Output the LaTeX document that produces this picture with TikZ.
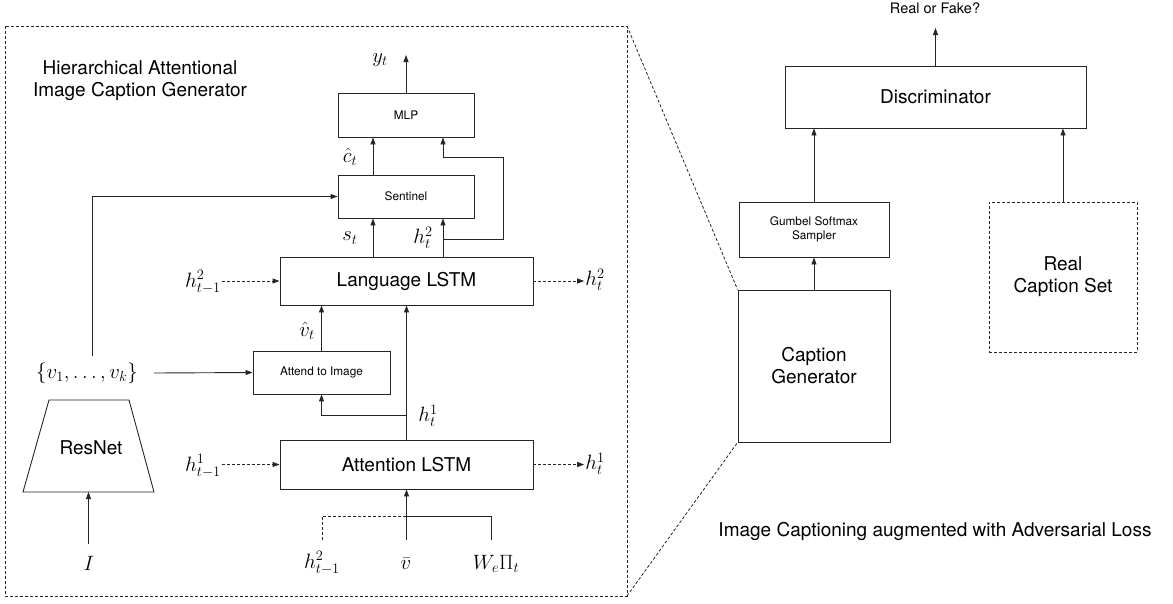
\documentclass[tikz,border=0pt]{standalone}
\usepackage[no-math]{fontspec}
\setmainfont{TeX Gyre Heros}
\usetikzlibrary{arrows.meta,calc}

\tikzset{
  box/.style={draw=black!85, line width=0.9pt, inner sep=0pt, align=center},
  bigtext/.style={font=\fontsize{19}{22}\selectfont},
  smalltext/.style={font=\fontsize{11.8}{14}\selectfont},
  mathlbl/.style={font=\fontsize{20}{24}\selectfont, inner sep=1pt},
  arr/.style={-{Triangle[length=7pt,width=5pt]}, line width=0.9pt, draw=black!85},
  darr/.style={arr, dash pattern=on 3pt off 2pt},
  wire/.style={line width=0.9pt, draw=black!85},
  frame/.style={line width=0.8pt, dash pattern=on 3pt off 2pt, draw=black!85},
}

\begin{document}
\begin{tikzpicture}[x=1pt,y=-1pt]
\useasboundingbox (0,0) rectangle (1173,603);

% ---------- generator detail frame ----------
\draw[frame] (5,26) rectangle (627,596);
\coordinate (zt) at (627,26);
\coordinate (zb) at (627,596);

\node[bigtext, align=center] (title) at (140,81) {Hierarchical Attentional\\Image Caption Generator};

% main blocks
\node[box, minimum width=136pt, minimum height=44pt, smalltext] (mlp) at (406,115) {MLP};
\node[box, minimum width=136pt, minimum height=43pt, smalltext] (sent) at (406,196.5) {Sentinel};
\node[box, minimum width=253pt, minimum height=48pt, bigtext] (lang) at (406.5,281) {Language LSTM};
\node[box, minimum width=137pt, minimum height=43pt, smalltext] (att) at (321.5,372.5) {Attend to Image};
\node[box, minimum width=253pt, minimum height=49pt, bigtext] (attn) at (406.5,464.5) {Attention LSTM};

% ResNet encoder
\draw[wire] (49,400) -- (129,400) -- (154,492) -- (23,492) -- cycle;
\node[bigtext] (resnet) at (91,448) {ResNet};
\coordinate (resbot) at (88.5,492);

% output of the MLP
\node[mathlbl] (yt) at (380,60) {$y_t$};
\coordinate (ytend) at (406,55);
\draw[arr] (mlp.north) -- (ytend);

% columns between Language LSTM, Sentinel and MLP
\coordinate (cA) at (373,0);
\coordinate (cB) at (443,0);
\coordinate (cR) at (503,0);
\draw[arr] (sent.north -| cA) -- (mlp.south -| cA);
\draw[arr] (lang.north -| cA) -- (sent.south -| cA);
\draw[arr] (lang.north -| cB) -- (sent.south -| cB);
\coordinate (hb) at (443,239);
\coordinate (ht) at (443,157);
\draw[arr] (hb) -- (hb -| cR) |- (ht) -- (mlp.south -| cB);

\node[mathlbl] (chat) at (350,157) {$\hat c_t$};
\node[mathlbl] (st) at (350,238) {$s_t$};
\node[mathlbl] (hts) at (423,238) {$h_t^2$};

% image features
\node[mathlbl] (vset) at (87,373) {$\{v_1,\ldots,v_k\}$};
\coordinate (vup) at (92,356);
\draw[arr] (vup) |- (sent.west);
\coordinate (vout) at (154,373);
\draw[arr] (vout) -- (att.west);

\draw[arr] (att.north) -- (att.north |- lang.south);
\node[mathlbl] (vhat) at (307,331) {$\hat v_t$};
\draw[arr] (attn.north) -- (lang.south);
\coordinate (jn) at (406.5,415);
\draw[arr] (jn) -| (att.south);
\node[mathlbl] (h1mid) at (428,416) {$h_t^1$};

% recurrent states
\node[mathlbl] (h2in) at (203,282) {$h_{t-1}^2$};
\draw[darr] (h2in.east |- lang.west) -- (lang.west);
\node[mathlbl] (h2out) at (595,280) {$h_t^2$};
\draw[darr] (lang.east) -- (lang.east -| h2out.west);
\node[mathlbl] (h1in) at (203,466) {$h_{t-1}^1$};
\draw[darr] (h1in.east |- attn.west) -- (attn.west);
\node[mathlbl] (h1out) at (595,464) {$h_t^1$};
\draw[darr] (attn.east) -- (attn.east -| h1out.west);

% inputs at the bottom
\node[mathlbl] (I) at (89,563) {$I$};
\coordinate (iy) at (0,544);
\draw[arr] (resbot |- iy) -- (resbot);
\node[mathlbl] (h2b) at (322,563) {$h_{t-1}^2$};
\node[mathlbl] (vbar) at (406,564) {$\bar v$};
\node[mathlbl] (we) at (496,564) {$W_e\Pi_t$};
\coordinate (by) at (0,540);
\coordinate (my) at (0,516);
\coordinate (cW) at (491,0);
\draw[wire, dash pattern=on 3pt off 2pt] (h2b.north |- by) -- (h2b.north |- my) -- (attn.south |- my);
\draw[arr] (attn.south |- by) -- (attn.south);
\draw[wire] (cW |- by) -- (cW |- my) -- (attn.south |- my);

% ---------- adversarial setup ----------
\node[box, minimum width=301pt, minimum height=62pt, bigtext] (disc) at (935.5,97) {Discriminator};
\node[font=\fontsize{14.5}{17}\selectfont] (rf) at (935,8) {Real or Fake?};
\coordinate (rfend) at (935.5,28);
\draw[arr] (disc.north) -- (rfend);

\node[box, minimum width=150pt, minimum height=55pt, smalltext] (gum) at (814,229.5) {Gumbel Softmax\\Sampler};
\node[box, minimum width=152pt, minimum height=152pt, bigtext] (cap) at (814,366) {Caption\\Generator};
\node[box, dash pattern=on 3pt off 2pt, minimum width=148pt, minimum height=150pt, bigtext] (real) at (1063,277) {Real\\Caption Set};

\draw[arr] (cap.north) -- (gum.south);
\draw[arr] (gum.north) -- (disc.south -| gum.north);
\draw[arr] (real.north) -- (disc.south -| real.north);

\node[bigtext] (caption) at (935,531) {Image Captioning augmented with Adversarial Loss};

% zoom lines from the generator box to the detail frame
\draw[frame] (zt) -- (cap.north west);
\draw[frame] (zb) -- (cap.south west);
\end{tikzpicture}
\end{document}
